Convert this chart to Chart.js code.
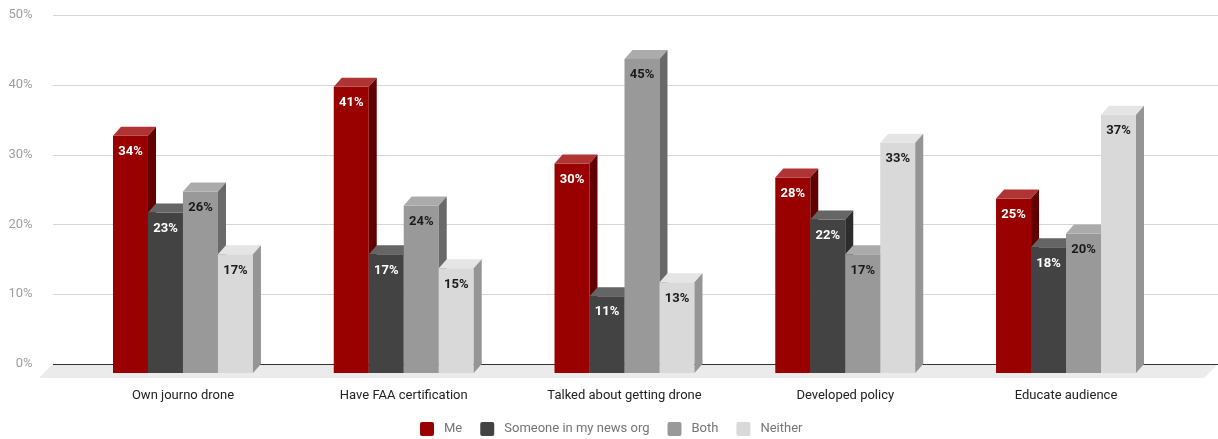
<!DOCTYPE html>
<html>
<head>
<meta charset="utf-8">
<script src="https://cdn.jsdelivr.net/npm/chart.js@4.4.1/dist/chart.umd.min.js"></script>
<style>
  html, body { margin: 0; padding: 0; background: #ffffff; }
  #wrap { width: 1218px; height: 439px; position: relative; }
</style>
</head>
<body>
<div id="wrap"><canvas id="c"></canvas></div>
<script>
// Survey answers per activity, in percent
const categories = ['Own journo drone', 'Have FAA certification', 'Talked about getting drone', 'Developed policy', 'Educate audience'];
const seriesNames = ['Me', 'Someone in my news org', 'Both', 'Neither'];
const meValues = [34, 41, 30, 28, 25];
const someoneValues = [23, 17, 11, 22, 18];
const bothValues = [26, 24, 45, 17, 20];
const neitherValues = [17, 15, 13, 33, 37];
const yTicks = [0, 10, 20, 30, 40, 50];

// Face shades for each series: front, top, right side, value text
const shades = [
  { front: '#990000', top: '#b13434', side: '#620000', text: '#ffffff' },
  { front: '#434343', top: '#656565', side: '#2c2c2c', text: '#ffffff' },
  { front: '#999999', top: '#ababab', side: '#696969', text: '#1a1a1a' },
  { front: '#d9d9d9', top: '#e5e5e5', side: '#959595', text: '#1a1a1a' }
];

const DEPTH_X = 8;      // how far the back face sits to the right
const DEPTH_Y = 9;      // how far the front face sits below the back face
const FLOOR = 14;       // depth of the floor slab
const GRID_LEFT = 53;
const FONT = 'Roboto, "Noto Sans", sans-serif';

const seriesValues = [meValues, someoneValues, bothValues, neitherValues];

function poly(ctx, pts, color) {
  ctx.fillStyle = color;
  ctx.beginPath();
  ctx.moveTo(pts[0][0], pts[0][1]);
  for (let k = 1; k < pts.length; k++) ctx.lineTo(pts[k][0], pts[k][1]);
  ctx.closePath();
  ctx.fill();
}

// Draws the grid, floor and extruded columns from the bar elements' geometry
const prismPlugin = {
  id: 'prism',
  beforeDatasetsDraw(chart) {
    const ctx = chart.ctx;
    const yScale = chart.scales.y;
    const right = chart.width;
    ctx.save();

    ctx.strokeStyle = '#d6d6d6';
    ctx.lineWidth = 1;
    yTicks.forEach(v => {
      if (v === 0) return;
      const py = Math.round(yScale.getPixelForValue(v)) + 0.5;
      ctx.beginPath();
      ctx.moveTo(GRID_LEFT, py);
      ctx.lineTo(right, py);
      ctx.stroke();
    });

    const zero = yScale.getPixelForValue(0);
    poly(ctx, [[GRID_LEFT, zero], [right, zero], [right - FLOOR, zero + FLOOR], [GRID_LEFT - FLOOR, zero + FLOOR]], '#ebebeb');

    const zy = Math.round(zero) + 0.5;
    ctx.strokeStyle = '#333333';
    ctx.beginPath();
    ctx.moveTo(GRID_LEFT, zy);
    ctx.lineTo(right, zy);
    ctx.stroke();

    const metas = chart.data.datasets.map((_, d) => chart.getDatasetMeta(d));
    for (let i = 0; i < categories.length; i++) {
      metas.forEach((meta, d) => {
        const el = meta.data[i];
        const p = el.getProps(['x', 'y', 'base', 'width'], true);
        const s = shades[d];
        const x0 = p.x - p.width / 2, x1 = p.x + p.width / 2;
        const top = p.y, base = p.base;
        // front face
        poly(ctx, [[x0 - DEPTH_X, top + DEPTH_Y], [x1 - DEPTH_X, top + DEPTH_Y], [x1 - DEPTH_X, base + DEPTH_Y], [x0 - DEPTH_X, base + DEPTH_Y]], s.front);
        // top face
        poly(ctx, [[x0 - DEPTH_X, top + DEPTH_Y], [x1 - DEPTH_X, top + DEPTH_Y], [x1, top], [x0, top]], s.top);
        // right side face
        poly(ctx, [[x1 - DEPTH_X, top + DEPTH_Y], [x1, top], [x1, base], [x1 - DEPTH_X, base + DEPTH_Y]], s.side);
      });
    }

    ctx.font = 'bold 13px ' + FONT;
    ctx.textAlign = 'center';
    ctx.textBaseline = 'middle';
    metas.forEach((meta, d) => {
      meta.data.forEach((el, i) => {
        const p = el.getProps(['x', 'y'], true);
        ctx.fillStyle = shades[d].text;
        ctx.fillText(seriesValues[d][i] + '%', p.x - DEPTH_X, p.y + DEPTH_Y + 16);
      });
    });

    ctx.restore();
    return false;
  },
  afterDraw(chart) {
    const ctx = chart.ctx;
    ctx.save();
    ctx.font = '13px ' + FONT;
    const box = 14, gap = 10, itemGap = 18;
    const widths = seriesNames.map(n => ctx.measureText(n).width);
    const total = widths.reduce((a, w) => a + box + gap + w, 0) + itemGap * (seriesNames.length - 1);
    let x = Math.round(611 - total / 2);
    const cy = 429;
    ctx.textBaseline = 'middle';
    ctx.textAlign = 'left';
    seriesNames.forEach((n, d) => {
      ctx.fillStyle = shades[d].front;
      ctx.beginPath();
      ctx.roundRect(x, cy - box / 2, box, box, 2);
      ctx.fill();
      ctx.fillStyle = '#757575';
      ctx.fillText(n, x + box + gap, cy);
      x += box + gap + widths[d] + itemGap;
    });
    ctx.restore();
  }
};

new Chart(document.getElementById('c'), {
  type: 'bar',
  data: {
    labels: categories,
    datasets: seriesNames.map((name, d) => ({
      label: name,
      data: seriesValues[d],
      backgroundColor: shades[d].front,
      categoryPercentage: 0.634,
      barPercentage: 1.0
    }))
  },
  options: {
    responsive: true,
    maintainAspectRatio: false,
    animation: false,
    devicePixelRatio: 1,
    layout: { padding: { top: 15, right: 33.6, bottom: 0, left: 0 } },
    plugins: {
      legend: { display: false },
      tooltip: { enabled: false }
    },
    scales: {
      x: {
        grid: { display: false, drawTicks: false },
        border: { display: false },
        ticks: {
          color: '#222222',
          font: { family: FONT, size: 13 },
          padding: 24,
          labelOffset: -DEPTH_X,
          maxRotation: 0,
          autoSkip: false
        },
        afterFit(scale) { scale.height = 75; }
      },
      y: {
        min: 0,
        max: 50,
        afterBuildTicks(scale) { scale.ticks = yTicks.map(v => ({ value: v })); },
        grid: { display: false, drawTicks: false },
        border: { display: false },
        ticks: {
          color: '#9e9e9e',
          font: { family: FONT, size: 13 },
          padding: 48,
          callback: v => v + '%'
        },
        afterFit(scale) {
          scale.width = 80.6;
          scale.paddingTop = 8;
          scale.paddingBottom = 8;
        }
      }
    }
  },
  plugins: [prismPlugin]
});
</script>
</body>
</html>
